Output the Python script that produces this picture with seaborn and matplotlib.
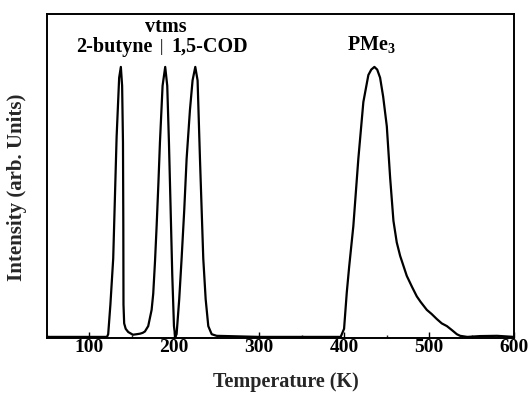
import matplotlib
matplotlib.use("Agg")
import matplotlib.pyplot as plt
import seaborn as sns
import pandas as pd
from matplotlib.ticker import MultipleLocator

# ---- data ----
temperature = [50, 100, 121, 122.4, 125, 128.3, 132.3, 135.3, 137.3, 138.8, 139.8, 140.2, 140.4,
               141.2, 143, 146, 151.5, 156, 160, 163, 165.6, 169.5, 173.5, 175.4, 177.5, 179.4,
               181.5, 183.3, 186.4, 189.5, 191.9, 193.9, 195.9, 197.8, 199.8, 201.3, 202.9, 206,
               208.8, 211.9, 214.7, 218.6, 221.7, 224.9, 227.6, 230.4, 232.4, 234.3, 237.1, 240.2,
               244.2, 250, 300, 350, 396, 400, 403.2, 406, 410.9, 416.8, 422.7, 428.6, 432, 435.7,
               439, 442.4, 446, 450.3, 454.2, 458.1, 462, 466, 473.8, 480, 485.6, 490, 497.4, 503,
               509.2, 515, 521, 527, 532.7, 536.6, 545, 560, 580, 600]
intensity = [0, 0, 0, 0.01, 0.12, 0.29, 0.74, 0.96, 1.0, 0.93, 0.72, 0.41, 0.12,
             0.05, 0.03, 0.018, 0.008, 0.01, 0.012, 0.015, 0.02, 0.04, 0.10, 0.16, 0.28, 0.41,
             0.57, 0.72, 0.93, 1.0, 0.93, 0.72, 0.47, 0.23, 0.04, 0.0, 0.01, 0.14,
             0.29, 0.47, 0.66, 0.84, 0.95, 1.0, 0.95, 0.66, 0.47, 0.29, 0.14, 0.04,
             0.01, 0.004, 0, 0, 0, 0.03, 0.165, 0.26, 0.41, 0.66, 0.87, 0.97, 0.99, 1.0,
             0.99, 0.96, 0.89, 0.78, 0.59, 0.43, 0.35, 0.30, 0.226, 0.185, 0.15, 0.13, 0.10, 0.085,
             0.066, 0.05, 0.04, 0.025, 0.01, 0.004, 0, 0.003, 0.004, 0]

peak_labels = ["vtms", "2-butyne", "|", "1,5-COD", r"PMe$_\mathbf{3}$"]
label_x = [190.3, 129.7, 185.3, 241.5, 432.6]
label_y = [1.148, 1.074, 1.074, 1.074, 1.081]

xticks = [100, 200, 300, 400, 500, 600]

df = pd.DataFrame({"Temperature (K)": temperature, "Intensity": intensity})

sns.set_theme(style="ticks")
plt.rcParams["font.family"] = ["Liberation Serif", "DejaVu Serif"]
plt.rcParams["mathtext.fontset"] = "custom"
plt.rcParams["mathtext.rm"] = "Liberation Serif"
plt.rcParams["mathtext.bf"] = "Liberation Serif:bold"

fig = plt.figure(figsize=(5.28, 3.93), dpi=100)
ax = fig.add_axes([0.0884, 0.140, 0.8851, 0.8244])

sns.lineplot(data=df, x="Temperature (K)", y="Intensity", sort=False,
             color="black", linewidth=1.6, ax=ax, estimator=None)

ax.set_xlim(50, 600)
ax.set_ylim(-0.004, 1.196)
ax.set_xticks(xticks)
ax.set_xticklabels([str(t) for t in xticks], fontsize=14, fontweight="bold")
ax.xaxis.set_minor_locator(MultipleLocator(50))
ax.tick_params(axis="x", which="major", direction="in", length=4, width=1.0, pad=1,
               top=False, colors="black")
ax.tick_params(axis="x", which="minor", direction="in", length=2.5, width=1.0, top=False)
ax.set_yticks([])

for s in ax.spines.values():
    s.set_visible(True)
    s.set_linewidth(1.4)
    s.set_color("black")

ax.set_xlabel("Temperature (K)", fontsize=14.5, fontweight="bold")
ax.set_ylabel("Intensity (arb. Units)", fontsize=15, fontweight="bold")
ax.xaxis.set_label_coords(0.512, -0.106)
ax.yaxis.set_label_coords(-0.043, 0.4645)

for txt, x, y in zip(peak_labels, label_x, label_y):
    if txt == "|":
        ax.text(x, y, txt, ha="center", va="center", fontsize=12, fontweight="normal",
                color="black")
    else:
        ax.text(x, y, txt, ha="center", va="center", fontsize=14.5, fontweight="bold",
                color="black")

fig.savefig("out.png", dpi=100)
